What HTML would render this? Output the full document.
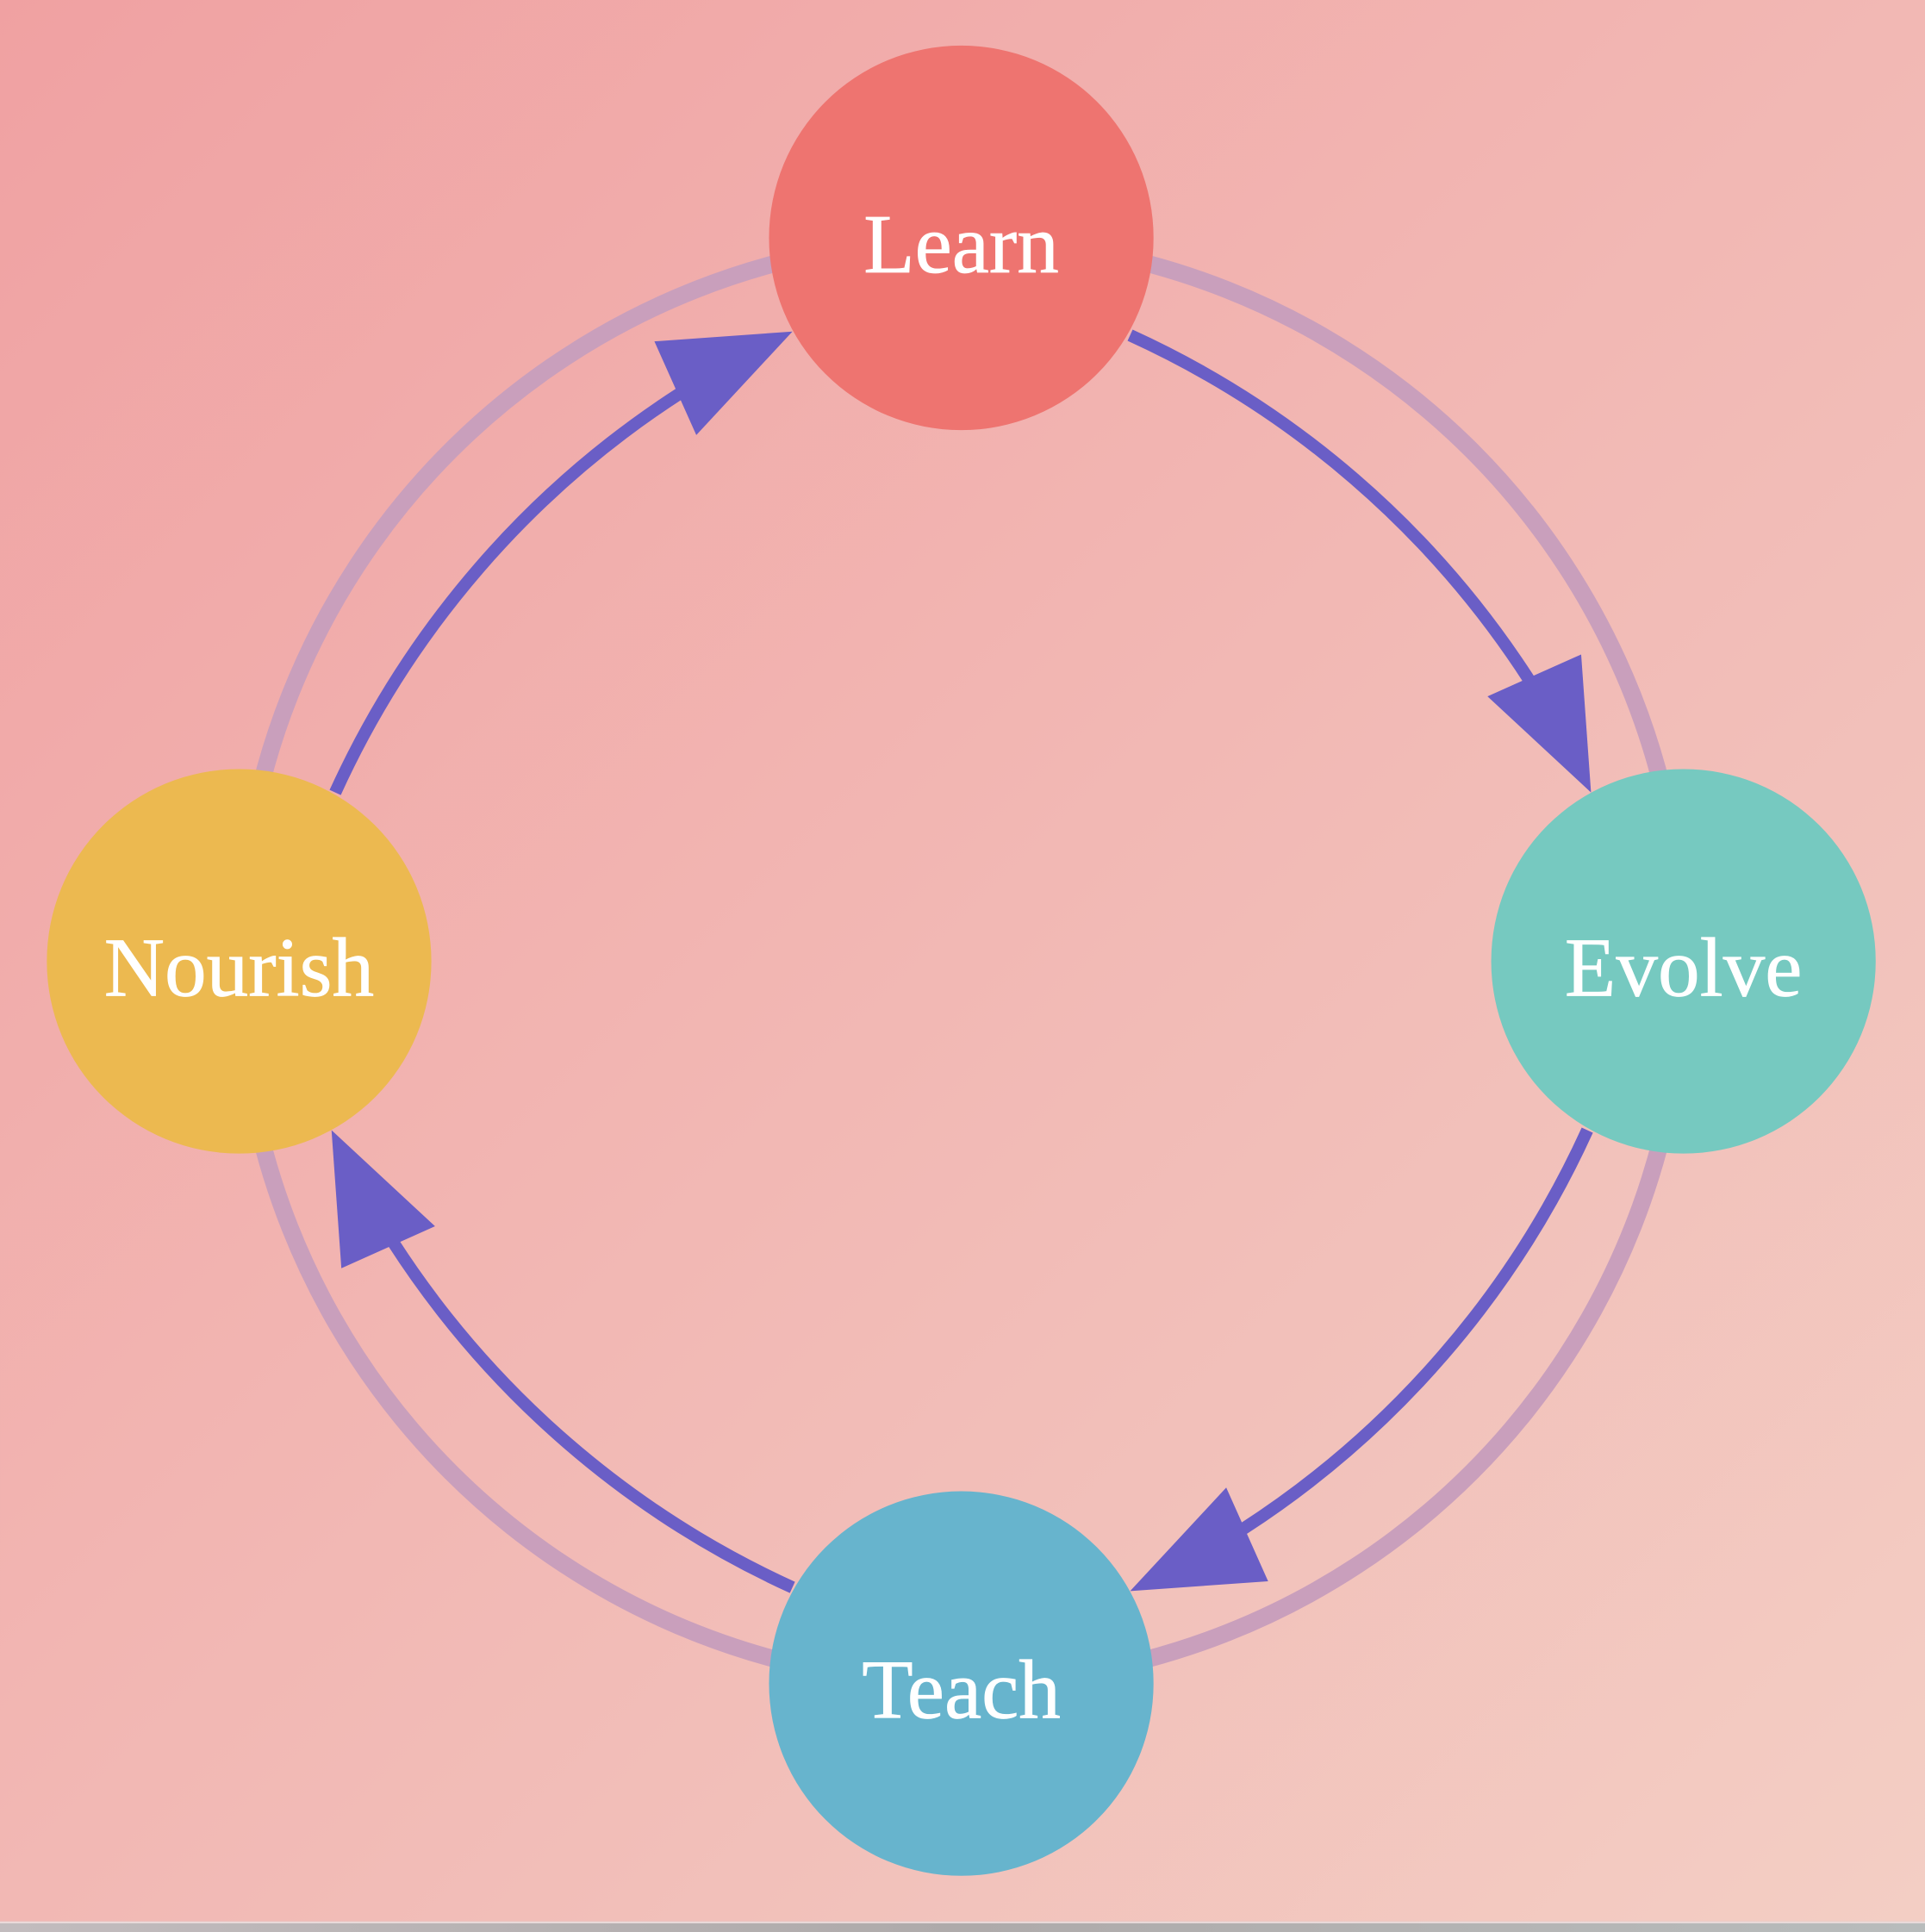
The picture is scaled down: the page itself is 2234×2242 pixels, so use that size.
<!DOCTYPE html>
<html><head><meta charset="utf-8"><style>
html,body{margin:0;padding:0;width:2234px;height:2242px;overflow:hidden;background:#b5b3b3;}
svg{display:block;}
</style></head><body>
<svg width="2234" height="2242" viewBox="0 0 1562 1567.6" xmlns="http://www.w3.org/2000/svg">
<defs>
<linearGradient id="bg" x1="0" y1="0" x2="1" y2="1">
<stop offset="0" stop-color="#f0a1a2"/>
<stop offset="0.5" stop-color="#f2b8b4"/>
<stop offset="1" stop-color="#f3cec4"/>
</linearGradient>
<linearGradient id="bot" x1="0" y1="0" x2="1" y2="0">
<stop offset="0" stop-color="#c2bcbe"/>
<stop offset="0.5" stop-color="#aeaaaa"/>
<stop offset="1" stop-color="#b8bcbc"/>
</linearGradient>
<g id="arr">
<path d="M917,272 A760,760 0 0 1 1241,552" fill="none" stroke="#6a5ec6" stroke-width="10"/>
<polygon points="1207,565 1283,531 1291,643" fill="#6a5ec6"/>
</g>
</defs>
<rect x="0" y="1559" width="1562" height="9" fill="url(#bot)"/>
<rect x="0" y="1559" width="1562" height="1.5" fill="#ecdcdc"/>
<rect x="0" y="0" width="1562" height="1559" fill="url(#bg)"/>
<circle cx="780" cy="780" r="586" fill="none" stroke="#c99fbc" stroke-width="14"/>
<use href="#arr"/>
<use href="#arr" transform="rotate(90 780 780)"/>
<use href="#arr" transform="rotate(180 780 780)"/>
<use href="#arr" transform="rotate(270 780 780)"/>
<circle cx="780" cy="193" r="156" fill="#ee7470"/>
<circle cx="1366" cy="780" r="156" fill="#76c9c0"/>
<circle cx="194" cy="780" r="156" fill="#ecb950"/>
<circle cx="780" cy="1366" r="156" fill="#67b4cd"/>
<g font-family="Liberation Serif, serif" font-size="68" fill="#ffffff" stroke="#ffffff" stroke-width="0.5" text-anchor="middle">
<text x="780" y="221">Learn</text>
<text x="1366" y="808">Evolve</text>
<text x="194" y="808">Nourish</text>
<text x="780" y="1394">Teach</text>
</g>
</svg>
</body></html>
